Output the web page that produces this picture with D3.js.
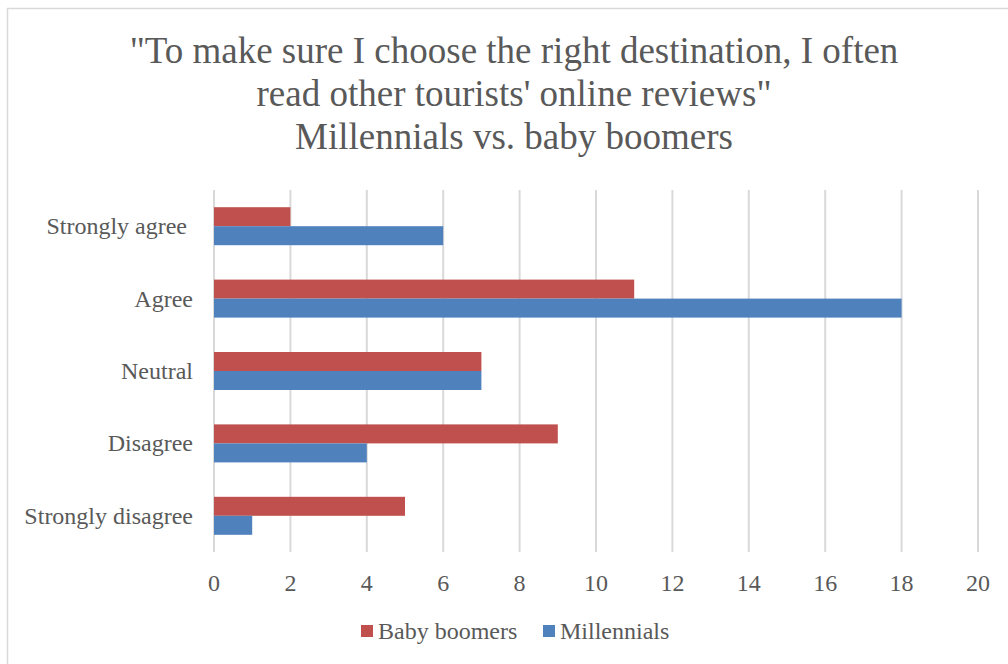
<!DOCTYPE html>
<html>
<head>
<meta charset="utf-8">
<script src="https://cdn.jsdelivr.net/npm/d3@7"></script>
<style>
  body { margin: 0; background: #fff; }
  text { font-family: "Liberation Serif", "Times New Roman", serif; fill: #595959; }
</style>
</head>
<body>
<div id="chart"></div>
<script>
const categories = ["Strongly agree ", "Agree", "Neutral", "Disagree", "Strongly disagree"];
const seriesNames = ["Baby boomers", "Millennials"];
const babyBoomers = [2, 11, 7, 9, 5];
const millennials = [6, 18, 7, 4, 1];
const xTicks = [0, 2, 4, 6, 8, 10, 12, 14, 16, 18, 20];
const titleLines = [
    "\"To make sure I choose the right destination, I often",
    "read other tourists' online reviews\"",
    "Millennials vs. baby boomers"
];
const colors = ["#C0504D", "#4F81BD"];

const width = 1008;
const height = 664;
const plot = { left: 214, right: 978, top: 190, bottom: 552 };

const svg = d3.select("#chart").append("svg")
    .attr("width", width)
    .attr("height", height);

// chart border
svg.append("rect")
    .attr("x", 7.5).attr("y", 8.5)
    .attr("width", 1010).attr("height", 700)
    .attr("fill", "none")
    .attr("stroke", "#d9d9d9")
    .attr("stroke-width", 1.5);

svg.append("text")
    .attr("text-anchor", "middle")
    .attr("font-size", 37)
    .selectAll("tspan")
    .data(titleLines)
    .enter().append("tspan")
    .attr("x", 514)
    .attr("y", (d, i) => 63 + i * 43)
    .text(d => d);

const x = d3.scaleLinear().domain([0, 20]).range([plot.left, plot.right]);
const y = d3.scaleBand().domain(categories).range([plot.top, plot.bottom]).paddingInner(0).paddingOuter(0);
const barH = 19;

// gridlines
svg.append("g")
    .selectAll("line")
    .data(xTicks)
    .enter().append("line")
    .attr("x1", d => x(d)).attr("x2", d => x(d))
    .attr("y1", plot.top).attr("y2", plot.bottom)
    .attr("stroke", "#d9d9d9")
    .attr("stroke-width", 2);

const rows = categories.map((c, i) => ({ cat: c, values: [babyBoomers[i], millennials[i]] }));

const group = svg.append("g")
    .selectAll("g")
    .data(rows)
    .enter().append("g")
    .attr("transform", d => `translate(0,${y(d.cat) + y.bandwidth() / 2})`);

group.selectAll("rect")
    .data(d => d.values)
    .enter().append("rect")
    .attr("x", x(0))
    .attr("y", (d, i) => (i - 1) * barH)
    .attr("width", d => x(d) - x(0))
    .attr("height", barH)
    .attr("fill", (d, i) => colors[i]);

// category labels
svg.append("g")
    .selectAll("text")
    .data(categories)
    .enter().append("text")
    .attr("x", 193)
    .attr("y", d => y(d) + y.bandwidth() / 2 + 8)
    .attr("text-anchor", "end")
    .attr("font-size", 24)
    .style("white-space", "pre")
    .text(d => d);

// x tick labels
svg.append("g")
    .selectAll("text")
    .data(xTicks)
    .enter().append("text")
    .attr("x", d => x(d))
    .attr("y", 591)
    .attr("text-anchor", "middle")
    .attr("font-size", 24)
    .text(d => d);

// legend
const legend = svg.append("g")
    .selectAll("g")
    .data(seriesNames)
    .enter().append("g")
    .attr("transform", (d, i) => `translate(${[361, 543][i]},631)`);

legend.append("rect")
    .attr("x", 0).attr("y", -6)
    .attr("width", 12).attr("height", 12)
    .attr("fill", (d, i) => colors[i]);

legend.append("text")
    .attr("x", 17)
    .attr("y", 8)
    .attr("font-size", 24)
    .text(d => d);
</script>
</body>
</html>
